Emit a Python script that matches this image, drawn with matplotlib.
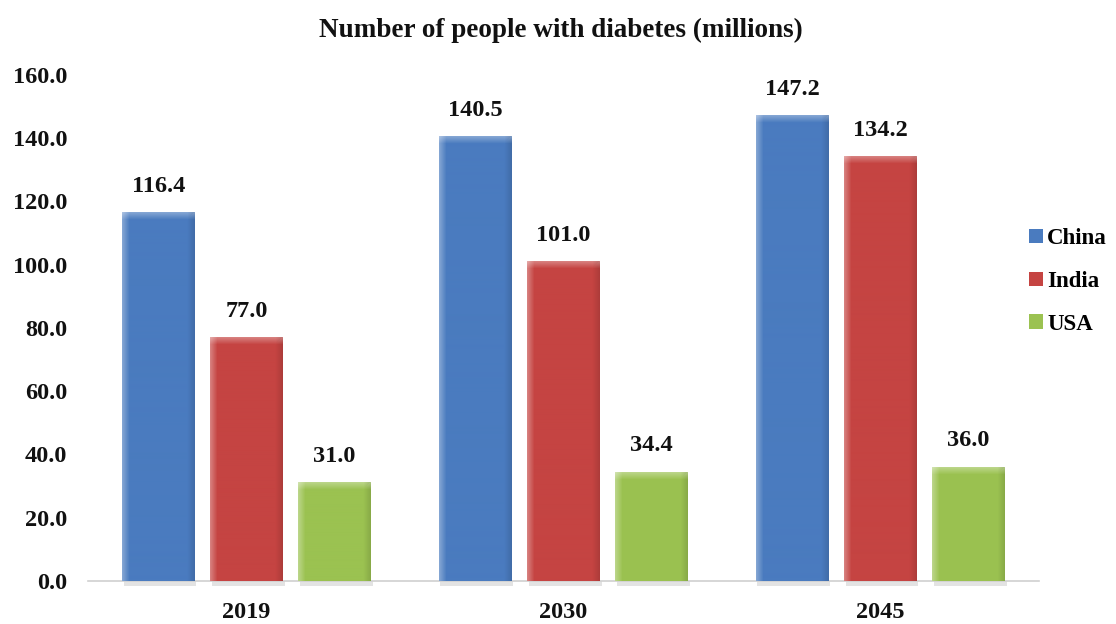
import numpy as np
import matplotlib
matplotlib.use('Agg')
from matplotlib import pyplot as plt
from matplotlib import colors as mcolors

years = ['2019', '2030', '2045']
countries = ['China', 'India', 'USA']
china = [116.4, 140.5, 147.2]
india = [77.0, 101.0, 134.2]
usa = [31.0, 34.4, 36.0]
bar_colors = ['#4a7bbf', '#c54442', '#9bc251']

plt.rcParams['font.family'] = ['Liberation Serif', 'DejaVu Serif']
plt.rcParams['font.weight'] = 'bold'

fig = plt.figure(figsize=(11.16, 6.24), dpi=100)
ax = fig.add_axes([0.0789, 0.0689, 0.852, 0.811])

x = np.arange(len(years))
width = 0.23
step = 0.278


def bevel(color, h_px, w_px=73):
    # bevel look: lighter top band, light inner strip on the sides
    base = np.array(mcolors.to_rgb(color))
    img = np.ones((h_px, w_px, 3)) * base
    edge = 7
    for i in range(edge):
        f = 0.32 * (1 - i / edge)
        img[:, i] = img[:, i] + (1 - img[:, i]) * f
        img[:, w_px - 1 - i] = img[:, w_px - 1 - i] * (1 - 0.12 * (1 - i / edge))
        img[i, :] = img[i, :] + (1 - img[i, :]) * f
    return np.clip(img, 0, 1)


for k, (vals, name, col) in enumerate(zip([china, india, usa], countries, bar_colors)):
    bars = ax.bar(x + (k - 1) * step, vals, width, color=col, label=name, zorder=2)
    for b in bars:
        bx, bw, bh = b.get_x(), b.get_width(), b.get_height()
        # soft shadow under the bar
        ax.add_patch(plt.Rectangle((bx + 0.005, -1.6), bw, 1.6, color='#666666',
                                   alpha=0.18, lw=0, clip_on=False, zorder=1))
        h_px = max(int(round(bh * 3.16)), 20)
        ax.imshow(bevel(col, h_px), extent=(bx, bx + bw, 0, bh),
                  aspect='auto', zorder=3, interpolation='bilinear')
        ax.text(bx + bw / 2, bh + 5, f'{bh:.1f}', ha='center', va='bottom',
                fontsize=17.5, fontweight='bold', color='#111111')

ax.set_xlim(-0.5, 2.5)
ax.set_ylim(0, 160)
ax.set_yticks(np.arange(0, 161, 20))
ax.set_yticklabels([f'{v:.1f}' for v in np.arange(0, 161, 20)])
ax.set_xticks(x)
ax.set_xticklabels(years)
ax.tick_params(axis='both', length=0, labelsize=17.5, colors='#111111')
ax.tick_params(axis='y', pad=15)
ax.tick_params(axis='x', pad=15)
for s in ['top', 'right', 'left']:
    ax.spines[s].set_visible(False)
ax.spines['bottom'].set_color('#d0d0d0')
ax.spines['bottom'].set_linewidth(1.2)
ax.spines['bottom'].set_zorder(1)

fig.text(0.503, 0.952, 'Number of people with diabetes (millions)', ha='center',
         va='center', fontsize=19.5, fontweight='bold', color='#111111')

leg = fig.legend(loc='center left', bbox_to_anchor=(0.922, 0.549), frameon=False,
                 fontsize=16.5, handlelength=0.6, handleheight=0.6,
                 handletextpad=0.2, labelspacing=0.95, borderpad=0,
                 borderaxespad=0)
for t in leg.get_texts():
    t.set_fontweight('bold')

fig.savefig('out.png', dpi=100)
